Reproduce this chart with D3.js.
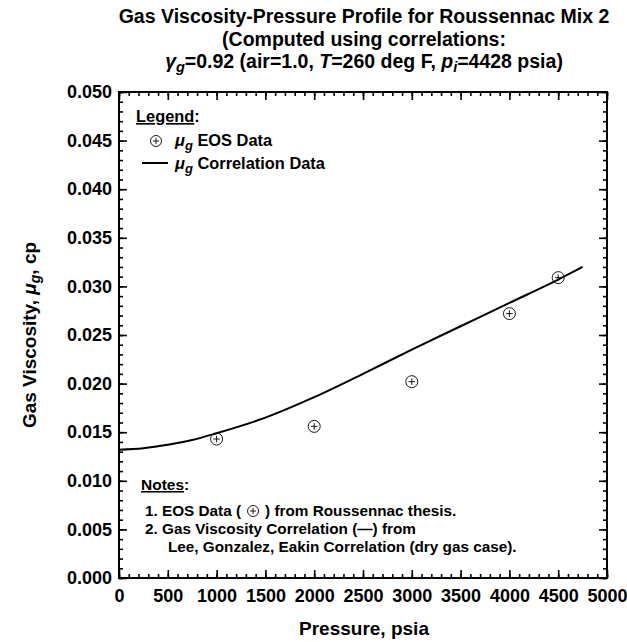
<!DOCTYPE html>
<html>
<head>
<meta charset="utf-8">
<script src="https://cdn.jsdelivr.net/npm/d3@7"></script>
<style>
  body { margin: 0; background: #fff; }
  text { font-family: "Liberation Sans", Arial, sans-serif; font-weight: bold; fill: #000; }
</style>
</head>
<body>
<svg id="chart" width="627" height="642"></svg>
<script>
// EOS viscosity points (psia, cp)
const eosPressure = [1000, 2000, 3000, 4000, 4500];
const eosViscosity = [0.0143, 0.0156, 0.0202, 0.0272, 0.0309];

// Lee-Gonzalez-Eakin correlation curve (psia, cp)
const corrPressure = [0, 250, 500, 750, 1000, 1500, 2000, 2500, 3000, 3500, 4000, 4500, 4750];
const corrViscosity = [0.0132, 0.01335, 0.0137, 0.0142, 0.0149, 0.0165, 0.0186, 0.0210, 0.0235, 0.0259, 0.0283, 0.0307, 0.0320];

const xTicks = [0, 500, 1000, 1500, 2000, 2500, 3000, 3500, 4000, 4500, 5000];
const yTicks = [0, 0.005, 0.010, 0.015, 0.020, 0.025, 0.030, 0.035, 0.040, 0.045, 0.050];

const svg = d3.select("#chart");
const L = 119, R = 607, T = 92, B = 578;

const x = d3.scaleLinear().domain([0, 5000]).range([L, R]);
const y = d3.scaleLinear().domain([0, 0.05]).range([B, T]);

// Titles
const title = svg.append("g").attr("text-anchor", "middle");
title.append("text").attr("x", 364).attr("y", 23).attr("font-size", 19.5)
  .text("Gas Viscosity-Pressure Profile for Roussennac Mix 2");
title.append("text").attr("x", 364).attr("y", 46).attr("font-size", 19.5)
  .text("(Computed using correlations:");
const t3 = title.append("text").attr("x", 364).attr("y", 68).attr("font-size", 19.5);
t3.append("tspan").attr("font-style", "italic").text("γ");
t3.append("tspan").attr("font-style", "italic").attr("font-size", 14.5).attr("dy", 4).text("g");
t3.append("tspan").attr("dy", -4).text("=0.92 (air=1.0, ");
t3.append("tspan").attr("font-style", "italic").text("T");
t3.append("tspan").text("=260 deg F, ");
t3.append("tspan").attr("font-style", "italic").text("p");
t3.append("tspan").attr("font-style", "italic").attr("font-size", 14.5).attr("dy", 4).text("i");
t3.append("tspan").attr("dy", -4).text("=4428 psia)");

// Axes with inside ticks on all four sides
const xMinor = d3.range(0, 5001, 100);
const yMinor = d3.range(0, 51, 1).map(v => v / 1000);

function tickAxis(axisFn, scale, pos, values, len, fmt) {
  const ax = axisFn(scale).tickValues(values).tickSizeInner(-len).tickSizeOuter(0)
    .tickFormat(fmt || "");
  const g = svg.append("g").attr("transform", pos).call(ax);
  g.select(".domain").remove();
  g.selectAll(".tick line").attr("stroke", "#000").attr("stroke-width", 1.6);
  g.selectAll(".tick text")
    .style("font-family", "Liberation Sans, Arial, sans-serif").style("font-weight", "bold");
  return g;
}

// bottom
tickAxis(d3.axisBottom, x, `translate(0,${B})`, xMinor, 4);
const xg = tickAxis(d3.axisBottom, x, `translate(0,${B})`, xTicks, 8, d3.format("d"));
xg.selectAll(".tick text").attr("font-size", 18).attr("y", 24).attr("dy", 0);
// top
tickAxis(d3.axisTop, x, `translate(0,${T})`, xMinor, 4);
tickAxis(d3.axisTop, x, `translate(0,${T})`, xTicks, 8);
// left
tickAxis(d3.axisLeft, y, `translate(${L},0)`, yMinor, 4);
const yg = tickAxis(d3.axisLeft, y, `translate(${L},0)`, yTicks, 8, d3.format(".3f"));
yg.selectAll(".tick text").attr("font-size", 18).attr("x", -7);
// right
tickAxis(d3.axisRight, y, `translate(${R},0)`, yMinor, 4);
tickAxis(d3.axisRight, y, `translate(${R},0)`, yTicks, 8);

// frame
svg.append("rect").attr("x", L).attr("y", T).attr("width", R - L).attr("height", B - T)
  .attr("fill", "none").attr("stroke", "#000").attr("stroke-width", 2);

// Axis titles
svg.append("text").attr("x", 364).attr("y", 635).attr("text-anchor", "middle")
  .attr("font-size", 19).text("Pressure, psia");
const yl = svg.append("text").attr("transform", "translate(36,335) rotate(-90)")
  .attr("text-anchor", "middle").attr("font-size", 19);
yl.append("tspan").text("Gas Viscosity, ");
yl.append("tspan").attr("font-style", "italic").text("μ");
yl.append("tspan").attr("font-style", "italic").attr("font-size", 14).attr("dy", 4).text("g");
yl.append("tspan").attr("dy", -4).text(", cp");

// Correlation curve
const corr = corrPressure.map((p, i) => [p, corrViscosity[i]]);
svg.append("path").datum(corr)
  .attr("fill", "none").attr("stroke", "#000").attr("stroke-width", 2)
  .attr("d", d3.line().x(d => x(d[0])).y(d => y(d[1])).curve(d3.curveMonotoneX));

// EOS markers: circle with plus
function marker(g, cx, cy, r) {
  const a = r * 0.55;
  g.append("circle").attr("cx", cx).attr("cy", cy).attr("r", r)
    .attr("fill", "none").attr("stroke", "#000").attr("stroke-width", 0.9);
  g.append("path").attr("d", `M${cx - a},${cy}H${cx + a}M${cx},${cy - a}V${cy + a}`)
    .attr("stroke", "#000").attr("stroke-width", 0.9);
}
const pts = svg.append("g");
eosPressure.forEach((p, i) => marker(pts, x(p), y(eosViscosity[i]), 6));

// Legend
svg.append("text").attr("x", 136).attr("y", 122).attr("font-size", 16.4)
  .html('<tspan text-decoration="underline">Legend</tspan>:');
marker(svg, 156, 141, 5.5);
const l1 = svg.append("text").attr("x", 175).attr("y", 146).attr("font-size", 16.4);
l1.append("tspan").attr("font-style", "italic").text("μ");
l1.append("tspan").attr("font-style", "italic").attr("font-size", 13).attr("dy", 4).text("g");
l1.append("tspan").attr("dy", -4).text(" EOS Data");
svg.append("line").attr("x1", 142).attr("x2", 168).attr("y1", 163).attr("y2", 163)
  .attr("stroke", "#000").attr("stroke-width", 2);
const l2 = svg.append("text").attr("x", 175).attr("y", 169).attr("font-size", 16.4);
l2.append("tspan").attr("font-style", "italic").text("μ");
l2.append("tspan").attr("font-style", "italic").attr("font-size", 13).attr("dy", 4).text("g");
l2.append("tspan").attr("dy", -4).text(" Correlation Data");

// Notes
svg.append("text").attr("x", 141).attr("y", 490).attr("font-size", 15.5)
  .html('<tspan text-decoration="underline">Notes</tspan>:');
const n1 = svg.append("text").attr("x", 145).attr("y", 516).attr("font-size", 15.3);
n1.append("tspan").text("1. EOS Data (");
n1.append("tspan").attr("dx", 24).text(") from Roussennac thesis.");
svg.append("text").attr("x", 145).attr("y", 534).attr("font-size", 15.3)
  .text("2. Gas Viscosity Correlation (\u2014) from");
svg.append("text").attr("x", 168).attr("y", 552).attr("font-size", 15.3)
  .text("Lee, Gonzalez, Eakin Correlation (dry gas case).");
// symbol drawn inline within note 1
const firstPart = n1.select("tspan").node().getComputedTextLength();
marker(svg, 145 + firstPart + 12, 511, 5.5);
</script>
</body>
</html>
